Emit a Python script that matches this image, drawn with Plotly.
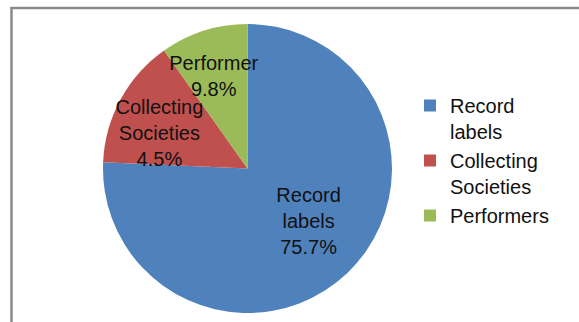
import plotly.graph_objects as go

W, H = 579, 322

categories = ["Record<br>labels", "Collecting<br>Societies", "Performers"]
values = [75.7, 14.5, 9.8]
slice_texts = [
    "&nbsp;&nbsp;&nbsp;&nbsp;Record<br>&nbsp;&nbsp;&nbsp;&nbsp;labels<br>&nbsp;&nbsp;&nbsp;&nbsp;75.7%",
    "&nbsp;<br>Collecting<br>Societies<br>4.5%",
    "&nbsp;<br>Performer<br>9.8%",
]
colors = ["#4F81BD", "#C0504D", "#9BBB59"]

cx, cy, r = 247.5, 168.5, 144.5
FONT = "Liberation Sans, Arial"
FS = 20

fig = go.Figure(go.Pie(
    labels=categories,
    values=values,
    text=slice_texts,
    textinfo="text",
    textposition="inside",
    insidetextorientation="horizontal",
    sort=False,
    direction="clockwise",
    rotation=0,
    marker=dict(colors=colors, line=dict(width=0)),
    textfont=dict(family=FONT, size=FS, color="#111111"),
    domain=dict(x=[(cx - r) / W, (cx + r) / W], y=[(H - cy - r) / H, (H - cy + r) / H]),
    hoverinfo="skip",
))

fig.update_layout(
    width=W, height=H,
    margin=dict(l=0, r=0, t=0, b=0),
    paper_bgcolor="white",
    font=dict(family=FONT, size=FS, color="#111111"),
    uniformtext=dict(minsize=FS, mode="show"),
    showlegend=True,
    legend=dict(
        x=410 / W, y=1 - 86 / H, xanchor="left", yanchor="top",
        valign="top", tracegroupgap=0, itemwidth=30,
        font=dict(family=FONT, size=FS, color="#111111"),
        bgcolor="rgba(0,0,0,0)",
    ),
    shapes=[
        dict(type="line", xref="paper", yref="paper", x0=11.5 / W, x1=11.5 / W, y0=-0.05, y1=1 - 7 / H,
             line=dict(color="#8a8a8a", width=2.5)),
        dict(type="line", xref="paper", yref="paper", x0=10.5 / W, x1=1.05, y0=1 - 8 / H, y1=1 - 8 / H,
             line=dict(color="#8a8a8a", width=2.5)),
    ],
)

fig.write_html("out.html")
